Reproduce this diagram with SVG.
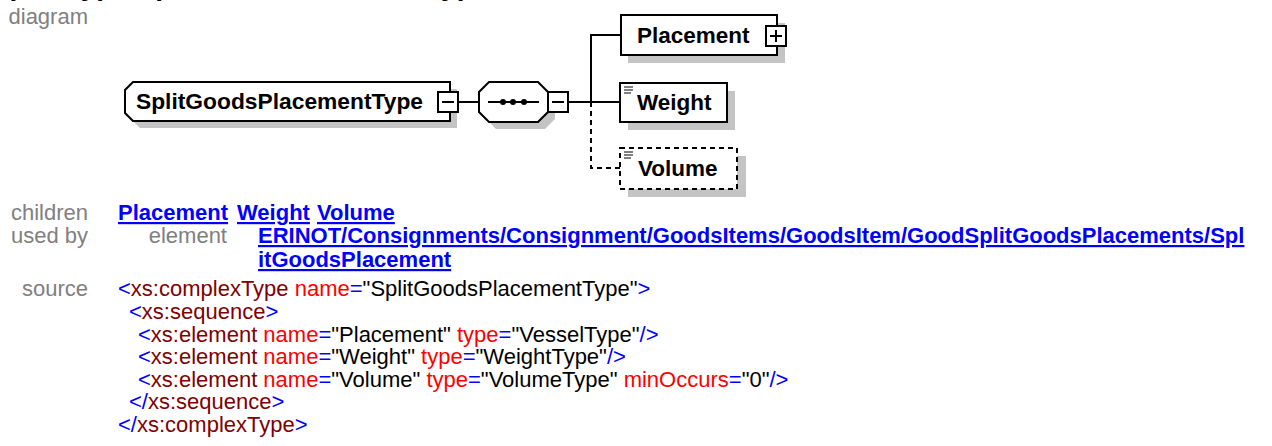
<svg xmlns="http://www.w3.org/2000/svg" width="1272" height="446" viewBox="0 0 1272 446">
<style>
text{font-family:"Liberation Sans",Arial,sans-serif}
.title{font-size:28px;font-weight:bold;fill:#000}
.lbl{font-size:22px;fill:#808080}
.lnk{font-size:22px;font-weight:bold;fill:#0000ff;text-decoration:underline}
.code{font-size:22px}
.b{fill:#0000ff}.m{fill:#800000}.r{fill:#ff0000}.k{fill:#000}
.nt{font-size:22.5px;font-weight:bold;fill:#000}
.box{fill:#fff;stroke:#000;stroke-width:2}
.dbox{fill:#fff;stroke:#000;stroke-width:2;stroke-dasharray:5 4}
.sh{fill:#c4c4c4}
.ln{stroke:#000;stroke-width:2;fill:none}
.dl{stroke:#000;stroke-width:2;fill:none;stroke-dasharray:5 4}
.ic{stroke:#000;stroke-width:1}
</style>
<text class="title" x="-48" y="-5">complexType SplitGoodsPlacementType</text>
<text class="lbl" x="88" y="24" text-anchor="end">diagram</text>

<g id="connectors">
<line class="ln" x1="458" y1="102" x2="479" y2="102"/>
<line class="ln" x1="568" y1="102" x2="620" y2="102"/>
<polyline class="ln" points="621,35 591,35 591,102"/>
<polyline class="dl" points="591,102 591,168 620,168"/>
</g>

<g id="SplitGoodsPlacementType">
<path class="sh" d="M140,89 H457 V128 H140 L132,120 V97 Z"/>
<path class="box" d="M133,82 H450 V121 H133 L125,113 V90 Z"/>
<text class="nt" x="136" y="109" textLength="287" lengthAdjust="spacingAndGlyphs">SplitGoodsPlacementType</text>
<rect class="box" x="438" y="92" width="20" height="20"/>
<line class="ln" x1="442" y1="102" x2="454" y2="102"/>
</g>

<g id="sequence">
<path class="sh" d="M496,89 H545 L555,99 V119 L545,129 H496 L486,119 V99 Z"/>
<path class="box" d="M489,82 H538 L548,92 V112 L538,122 H489 L479,112 V92 Z"/>
<line class="ln" x1="488" y1="102" x2="539" y2="102"/>
<circle cx="503" cy="102" r="3"/>
<circle cx="513" cy="102" r="3"/>
<circle cx="524" cy="102" r="3"/>
<rect class="box" x="548" y="92" width="20" height="20"/>
<line class="ln" x1="552" y1="102" x2="564" y2="102"/>
</g>

<g id="Placement">
<rect class="sh" x="628" y="23" width="157" height="40"/>
<rect class="box" x="621" y="15" width="156" height="40"/>
<text class="nt" x="637" y="43">Placement</text>
<rect class="box" x="766" y="26" width="20" height="20"/>
<line class="ln" x1="770" y1="36" x2="782" y2="36"/>
<line class="ln" x1="776" y1="30" x2="776" y2="42"/>
</g>

<g id="Weight">
<rect class="sh" x="628" y="91" width="107" height="39"/>
<rect class="box" x="620" y="83" width="107" height="39"/>
<line class="ic" x1="624" y1="87" x2="633" y2="87"/>
<line class="ic" x1="624" y1="90" x2="633" y2="90"/>
<line class="ic" x1="624" y1="93" x2="631" y2="93"/>
<text class="nt" x="637" y="110">Weight</text>
</g>

<g id="Volume">
<rect class="sh" x="628" y="156" width="118" height="41"/>
<rect class="dbox" x="620" y="148" width="117" height="41"/>
<line class="ic" x1="624" y1="152" x2="633" y2="152"/>
<line class="ic" x1="624" y1="155" x2="633" y2="155"/>
<line class="ic" x1="624" y1="158" x2="631" y2="158"/>
<text class="nt" x="638" y="176">Volume</text>
</g>

<g id="properties">
<text class="lbl" x="88" y="220" text-anchor="end">children</text>
<text class="lnk" x="118" y="220">Placement</text>
<text class="lnk" x="237" y="220">Weight</text>
<text class="lnk" x="317" y="220">Volume</text>
<text class="lbl" x="88" y="243" text-anchor="end">used by</text>
<text class="lbl" x="227" y="243" text-anchor="end">element</text>
<text class="lnk" x="258" y="243">ERINOT/Consignments/Consignment/GoodsItems/GoodsItem/GoodSplitGoodsPlacements/Spl</text>
<text class="lnk" x="258" y="267">itGoodsPlacement</text>
<text class="lbl" x="88" y="296" text-anchor="end">source</text>
</g>

<g id="source" class="code">
<text x="118" y="296"><tspan class="b">&lt;</tspan><tspan class="m">xs:complexType</tspan><tspan class="r"> name</tspan><tspan class="b">=</tspan><tspan class="k">"SplitGoodsPlacementType"</tspan><tspan class="b">&gt;</tspan></text>
<text x="129" y="319"><tspan class="b">&lt;</tspan><tspan class="m">xs:sequence</tspan><tspan class="b">&gt;</tspan></text>
<text x="138" y="342"><tspan class="b">&lt;</tspan><tspan class="m">xs:element</tspan><tspan class="r"> name</tspan><tspan class="b">=</tspan><tspan class="k">"Placement"</tspan><tspan class="r"> type</tspan><tspan class="b">=</tspan><tspan class="k">"VesselType"</tspan><tspan class="b">/&gt;</tspan></text>
<text x="138" y="364"><tspan class="b">&lt;</tspan><tspan class="m">xs:element</tspan><tspan class="r"> name</tspan><tspan class="b">=</tspan><tspan class="k">"Weight"</tspan><tspan class="r"> type</tspan><tspan class="b">=</tspan><tspan class="k">"WeightType"</tspan><tspan class="b">/&gt;</tspan></text>
<text x="138" y="387"><tspan class="b">&lt;</tspan><tspan class="m">xs:element</tspan><tspan class="r"> name</tspan><tspan class="b">=</tspan><tspan class="k">"Volume"</tspan><tspan class="r"> type</tspan><tspan class="b">=</tspan><tspan class="k">"VolumeType"</tspan><tspan class="r"> minOccurs</tspan><tspan class="b">=</tspan><tspan class="k">"0"</tspan><tspan class="b">/&gt;</tspan></text>
<text x="129" y="409"><tspan class="b">&lt;/</tspan><tspan class="m">xs:sequence</tspan><tspan class="b">&gt;</tspan></text>
<text x="118" y="432"><tspan class="b">&lt;/</tspan><tspan class="m">xs:complexType</tspan><tspan class="b">&gt;</tspan></text>
</g>
</svg>
